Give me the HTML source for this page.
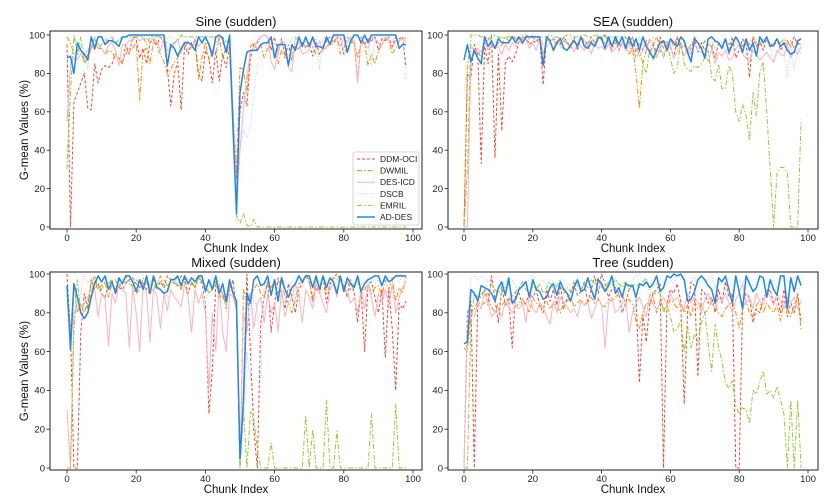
<!DOCTYPE html>
<html><head><meta charset="utf-8"><style>
body{margin:0;background:#fff}
svg{display:block;font-family:"Liberation Sans","DejaVu Sans",sans-serif}
</style></head><body>
<svg id="c" width="833" height="503" viewBox="0 0 833 503" xmlns="http://www.w3.org/2000/svg"></svg>
<script>
const panelTitles=["Sine (sudden)","SEA (sudden)","Mixed (sudden)","Tree (sudden)"];
const seriesNames=["DDM-OCI","DWMIL","DES-ICD","DSCB","EMRIL","AD-DES"];
const xTicks=[0,20,40,60,80,100];
const yTicks=[0,20,40,60,80,100];
const sineDDM=[95,0,65,70,75,80,62,61,85,75,82,84,83,85,90,88,85,95,90,99,98,88,93,85,96,98,95,99,97,83,63,80,86,61,95,90,96,97,80,76,92,88,75,92,76,90,83,95,50,25,60,70,63,88,95,96,99,100,99,92,99,90,98,89,95,87,94,93,96,94,96,89,96,90,93,97,99,96,99,99,90,93,96,96,76,99,95,98,97,99,92,98,97,99,94,99,98,99,83];
const sineDWMIL=[99,96,90,92,91,86,90,93,98,93,93,90,92,91,88,87,86,90,93,93,96,66,92,93,85,97,94,90,86,80,82,86,88,92,97,93,94,96,77,88,96,87,92,90,99,88,94,89,60,30,83,82,70,94,96,92,95,88,93,96,92,85,92,88,89,90,92,93,95,93,95,94,90,90,93,93,96,95,99,90,93,99,97,97,88,95,96,84,90,85,92,95,98,97,90,93,97,99,98];
const sineICD=[55,85,88,87,90,90,92,95,92,96,93,90,95,96,92,84,95,95,97,97,99,97,98,98,97,98,97,92,98,92,93,95,98,91,96,97,93,98,94,96,95,96,91,97,95,96,92,98,62,15,40,62,78,92,93,97,99,100,99,86,82,91,97,96,83,81,99,96,90,91,92,98,93,97,92,94,96,99,99,94,98,96,99,97,75,97,95,93,99,98,96,95,99,97,93,97,97,98,96];
const sineDSCB=[35,86,89,87,95,92,82,99,98,99,99,99,98,99,97,96,99,99,98,99,100,99,99,100,100,99,100,99,99,98,99,98,97,99,99,99,99,98,99,99,99,99,98,99,99,98,96,99,60,3,40,50,47,52,70,84,88,92,97,99,98,93,97,99,95,98,99,99,96,94,96,93,99,82,99,98,98,99,99,99,98,99,96,99,99,99,98,97,84,99,99,99,98,99,97,99,96,99,77];
const sineEMRIL=[30,70,100,90,99,85,88,93,99,93,95,98,96,99,95,98,99,99,99,99,99,99,99,95,99,99,99,99,96,96,95,96,97,100,99,99,99,99,99,99,99,99,99,99,99,99,96,98,55,6,2,7,1,0,4,0,0,0,0,0,0,0,0,0,0,0,0,0,0,0,0,0,0,0,0,0,0,0,0,0,0,0,0,0,0,0,0,0,0,0,0,0,0,0,0,0,0,0,0];
const sineAD=[88,89,80,96,92,90,87,99,93,99,99,95,97,97,96,94,99,99,100,100,100,100,100,100,100,100,100,100,100,84,95,93,89,93,96,96,95,92,99,96,99,95,89,99,100,98,91,100,50,7,70,82,91,92,92,92,95,96,96,99,88,95,95,95,84,95,92,99,94,99,94,99,94,94,93,99,95,100,100,100,100,91,97,100,100,96,100,96,100,100,100,100,100,100,100,100,93,95,95];
const seaDDM=[0,80,78,95,90,33,94,85,100,36,90,50,85,89,86,90,97,98,99,95,97,96,99,74,99,97,98,96,95,99,96,94,99,92,99,97,95,99,96,97,99,100,97,94,98,92,96,99,95,99,91,96,92,97,90,95,91,99,93,96,94,88,99,93,95,90,93,98,91,96,92,95,94,88,96,93,98,90,99,88,92,98,95,78,99,94,97,92,99,95,94,98,92,95,97,94,99,95,96];
const seaDWMIL=[0,85,95,90,92,88,95,98,95,93,96,94,99,97,99,98,97,99,98,98,99,97,99,90,97,98,97,95,96,97,96,93,97,95,99,96,93,97,94,98,99,95,97,92,96,95,99,94,90,94,80,62,85,92,98,95,99,93,97,96,98,94,99,95,97,92,95,99,96,93,97,95,94,97,96,94,98,95,97,99,96,94,97,95,99,96,95,98,97,96,94,97,96,98,95,97,93,96,95];
const seaICD=[0,0,88,90,93,91,96,92,95,93,94,90,95,92,96,94,97,95,98,93,96,92,98,95,94,96,93,97,94,93,92,95,91,96,94,92,95,90,96,93,94,92,95,91,93,94,96,92,95,90,93,89,92,96,90,94,88,93,90,92,95,88,91,94,89,93,90,95,92,91,90,86,93,85,91,89,92,87,88,93,95,90,88,86,92,90,87,89,91,88,86,92,90,89,95,88,92,90,94];
const seaDSCB=[70,85,90,92,96,94,97,99,98,99,99,99,98,99,99,99,98,99,99,99,99,99,98,97,99,98,99,97,99,96,95,99,97,98,99,97,96,99,98,99,97,96,99,98,99,94,96,98,99,95,96,99,94,97,92,99,95,97,93,96,94,98,92,96,95,90,93,97,96,94,90,95,97,93,95,96,92,94,90,97,93,95,96,88,94,96,92,95,97,93,85,90,95,92,78,96,82,94,90];
const seaEMRIL=[0,30,100,100,100,99,99,98,99,100,99,98,99,99,99,99,98,100,100,99,100,99,99,99,99,100,99,99,98,99,100,100,99,99,100,100,99,99,100,100,99,99,99,99,99,99,99,99,96,94,88,92,85,80,93,87,90,92,88,95,88,80,83,96,85,82,81,84,83,85,88,92,78,76,85,72,72,84,80,60,55,64,58,45,70,58,80,86,60,30,0,28,31,31,28,0,0,0,56];
const seaAD=[87,95,86,92,88,85,99,94,97,93,98,96,96,96,99,96,99,96,99,99,99,99,99,84,99,97,92,96,98,93,92,95,97,94,99,94,93,96,94,99,98,93,99,94,99,95,99,93,99,94,98,92,99,94,91,88,92,96,97,92,98,96,94,99,97,91,86,98,96,93,88,98,99,97,96,93,98,91,95,99,96,91,98,92,96,89,99,96,99,94,95,98,94,96,92,90,91,97,98];
const mixDDM=[100,70,0,0,70,90,82,97,92,95,90,88,95,97,90,93,92,95,97,98,95,93,96,92,90,97,94,96,93,99,97,95,94,99,98,90,96,93,98,95,85,28,50,96,93,90,85,92,97,80,0,40,100,60,20,0,75,88,96,70,85,98,90,82,95,88,80,92,95,99,97,86,93,90,99,85,95,98,100,97,94,88,97,90,75,92,60,95,96,88,80,92,57,92,72,40,85,82,86];
const mixDWMIL=[94,70,95,80,85,80,85,95,99,92,94,96,88,95,92,97,95,96,97,93,90,92,98,96,90,92,95,99,94,92,97,95,95,92,99,95,96,93,99,97,94,90,92,96,88,90,82,94,90,82,0,92,85,90,92,95,90,88,96,93,97,90,98,88,85,80,87,95,96,99,96,88,97,93,99,90,94,98,97,99,93,96,92,95,97,89,92,95,90,93,94,89,97,92,98,86,93,90,99];
const mixICD=[30,0,80,82,83,85,88,92,92,78,90,87,63,90,85,95,92,90,62,93,80,60,95,90,65,93,88,72,90,81,92,88,86,83,95,88,70,92,85,90,80,40,80,60,95,70,60,90,88,82,2,80,70,90,72,85,88,75,90,80,85,70,92,78,85,88,95,90,75,92,88,82,95,90,85,80,92,95,88,99,92,90,85,88,80,92,82,95,88,78,90,85,92,83,95,80,88,93,96];
const mixDSCB=[90,65,80,85,90,100,95,98,99,95,96,97,99,95,93,94,97,95,98,99,92,96,93,97,95,99,94,95,93,88,97,99,95,93,99,97,99,95,99,96,85,92,99,93,98,96,80,95,92,85,0,25,60,45,90,80,45,95,92,99,96,90,99,95,92,96,98,99,93,100,97,94,99,96,98,95,97,99,97,99,96,91,97,94,99,95,96,98,99,95,97,92,96,99,98,99,96,99,97];
const mixEMRIL=[0,0,70,97,80,82,84,90,97,93,92,96,95,97,97,93,96,99,95,94,97,95,92,96,94,95,92,96,97,94,96,95,99,92,96,97,95,93,99,96,94,90,92,95,90,88,84,95,90,82,0,30,0,29,25,10,0,0,0,13,0,0,0,0,0,0,0,0,0,27,0,20,0,0,0,35,0,0,19,0,0,0,0,0,0,0,0,0,28,0,0,0,0,0,0,33,0,0,0];
const mixAD=[94,61,95,88,80,77,80,88,95,99,96,99,92,96,90,98,95,99,99,96,91,97,92,99,90,99,93,92,90,91,97,97,99,94,99,95,98,96,99,99,91,97,92,99,90,95,86,97,90,86,5,35,90,85,97,99,94,95,99,89,97,86,98,92,88,93,95,99,96,99,99,93,99,92,99,93,98,96,90,99,91,98,95,93,99,91,95,97,98,99,99,94,99,96,97,99,99,99,99];
const treeDDM=[0,80,86,0,88,89,92,84,99,87,75,93,84,87,62,91,90,84,85,90,88,92,84,80,92,86,92,84,94,82,88,90,95,89,91,96,85,92,99,90,100,95,88,92,93,90,80,85,92,95,88,44,79,65,85,90,92,95,0,85,92,90,95,86,33,80,96,94,47,92,90,85,88,80,92,85,96,88,90,0,0,85,90,88,75,82,80,88,90,92,85,88,80,92,78,85,80,90,75];
const treeDWMIL=[62,60,80,82,86,84,85,88,83,80,85,84,86,88,85,83,85,87,84,80,88,85,83,84,86,82,85,84,80,85,86,88,83,85,87,84,86,88,85,87,84,83,87,86,88,90,89,85,87,84,76,72,80,85,84,88,80,86,82,83,87,85,82,86,80,84,78,86,82,84,80,82,86,84,80,78,82,84,86,80,72,82,86,80,78,84,86,80,85,82,80,84,76,86,82,78,84,88,71];
const treeICD=[0,70,80,78,85,82,90,85,78,80,82,78,86,83,80,84,82,85,75,90,82,80,85,83,78,74,86,80,88,85,83,80,82,78,86,84,85,77,82,88,84,62,85,88,80,82,85,86,70,80,85,88,83,78,90,84,82,85,88,84,90,86,88,84,82,90,85,88,86,80,87,90,85,82,88,86,90,85,80,87,90,95,85,88,82,90,86,84,92,88,84,90,86,82,88,85,88,82,86];
const treeDSCB=[0,75,98,99,97,99,98,96,97,98,99,92,96,98,97,94,92,93,96,97,99,93,95,97,94,97,96,93,95,91,95,94,97,96,93,95,97,94,96,92,95,97,93,95,98,94,96,95,92,97,99,100,94,95,96,93,95,97,96,94,97,95,100,98,97,96,95,99,94,97,96,97,99,93,96,95,98,97,94,98,97,95,99,96,94,97,99,98,95,96,97,93,98,99,96,97,98,99,95];
const treeEMRIL=[0,0,75,90,88,88,92,89,95,92,90,94,93,95,88,91,93,96,92,90,94,92,95,90,93,96,92,94,97,90,93,91,96,94,92,95,93,97,95,98,93,92,96,94,97,95,93,96,92,94,95,93,96,98,92,90,90,91,80,84,78,70,72,76,60,73,62,69,65,75,80,64,50,74,62,55,44,41,45,32,28,31,30,23,40,38,44,50,38,40,36,42,35,28,0,35,0,35,0];
const treeAD=[64,65,92,90,86,94,93,92,90,86,93,96,89,98,85,87,92,94,96,88,97,92,91,87,88,93,95,89,96,92,90,86,93,97,91,92,98,92,87,97,95,91,94,99,90,93,88,95,94,94,88,95,94,96,93,95,99,91,93,99,98,100,99,100,97,86,87,91,97,99,97,94,92,85,98,96,99,92,85,99,91,82,99,95,91,93,99,98,88,97,92,89,99,99,82,98,91,99,94];
const panelData=[
 [sineDDM,sineDWMIL,sineICD,sineDSCB,sineEMRIL,sineAD],
 [seaDDM,seaDWMIL,seaICD,seaDSCB,seaEMRIL,seaAD],
 [mixDDM,mixDWMIL,mixICD,mixDSCB,mixEMRIL,mixAD],
 [treeDDM,treeDWMIL,treeICD,treeDSCB,treeEMRIL,treeAD]];

const styles=[
 {c:"#f04a35",w:1,d:"3,2"},
 {c:"#ff8c00",w:1,d:"5,2,1.5,2"},
 {c:"#ffb0bf",w:1,d:""},
 {c:"#b0d8ea",w:1,d:"1,1.5"},
 {c:"#94cc2e",w:1,d:"5,2,1.5,2"},
 {c:"#1e88f0",w:1.5,d:""}];
const layout=[
 {L:50,R:422,T:31,B:229,x0:67,x100:413,y100:35,y0:227,yl:true},
 {L:448,R:818,T:31,B:229,x0:464,x100:808,y100:35,y0:227,yl:false},
 {L:50,R:422,T:272,B:470,x0:67,x100:413,y100:274,y0:468,yl:true},
 {L:448,R:818,T:272,B:470,x0:464,x100:808,y100:274,y0:468,yl:false}];
const NS="http://www.w3.org/2000/svg";
const svg=document.getElementById('c');
function mk(tag,attrs,parent){const e=document.createElementNS(NS,tag);for(const k in attrs)e.setAttribute(k,attrs[k]);(parent||svg).appendChild(e);return e;}
const slug=s=>s.toLowerCase().replace(/[^a-z0-9]+/g,'-').replace(/-$/,'');
layout.forEach((p,pi)=>{
 const g=mk('g',{});
 
 
 const xs=v=>p.x0+(p.x100-p.x0)*v/100;
 const ys=v=>p.y0+(p.y100-p.y0)*v/100;
 const clip=mk('clipPath',{id:'cp'+pi},g);
 mk('rect',{x:p.L,y:p.T,width:p.R-p.L,height:p.B-p.T},clip);
 panelData[pi].forEach((arr,si)=>{
  const st=styles[si];
  const pts=arr.map((v,i)=>xs(i).toFixed(1)+','+ys(v).toFixed(1)).join(' ');
  const pl=mk('polyline',{points:pts,fill:'none',stroke:st.c,'stroke-width':st.w,'stroke-dasharray':st.d,'clip-path':'url(#cp'+pi+')','stroke-linejoin':'round'},g);
  
  
 });
 const fr=mk('rect',{x:p.L,y:p.T,width:p.R-p.L,height:p.B-p.T,fill:'none',stroke:'#222','stroke-width':1},g);
 
 
 xTicks.forEach(t=>{
  const x=xs(t);
  mk('line',{x1:x,x2:x,y1:p.B,y2:p.B+3.5,stroke:'#222','stroke-width':0.8},g);
  const tx=mk('text',{x:x,y:p.B+12,'font-size':9.5,'text-anchor':'middle',fill:'#222'},g);
  tx.textContent=t;
  
  
 });
 yTicks.forEach(t=>{
  const y=ys(t);
  mk('line',{x1:p.L-3.5,x2:p.L,y1:y,y2:y,stroke:'#222','stroke-width':0.8},g);
  const tx=mk('text',{x:p.L-5,y:y+3.3,'font-size':9.5,'text-anchor':'end',fill:'#222'},g);
  tx.textContent=t;
  
  
 });
 const ti=mk('text',{x:(p.L+p.R)/2,y:p.T-5,'font-size':13,'text-anchor':'middle',fill:'#111'},g);
 ti.textContent=panelTitles[pi];
 
 
 const xl=mk('text',{x:(p.L+p.R)/2,y:p.B+23,'font-size':11.5,'text-anchor':'middle',fill:'#111'},g);
 xl.textContent='Chunk Index';
 
 
 if(p.yl){
  const cy=(p.T+p.B)/2;
  const yl=mk('text',{x:0,y:0,'font-size':11.5,'text-anchor':'middle',fill:'#111',transform:'translate(28,'+cy+') rotate(-90)'},g);
  yl.textContent='G-mean Values (%)';
  
  
 }
});
// legend
const lg=mk('g',{});


mk('rect',{x:353,y:152,width:66,height:73,rx:2,fill:'#fff','fill-opacity':0.85,stroke:'#ccc','stroke-width':0.8},lg);
seriesNames.forEach((n,i)=>{
 const y=159+i*11.6;
 const st=styles[i];
 const e=mk('g',{},lg);
 
 
 mk('line',{x1:357,x2:375,y1:y,y2:y,stroke:st.c,'stroke-width':st.w,'stroke-dasharray':st.d},e);
 const t=mk('text',{x:380,y:y+3,'font-size':8.5,fill:'#222'},e);
 t.textContent=n;
});
</script>
</body></html>
